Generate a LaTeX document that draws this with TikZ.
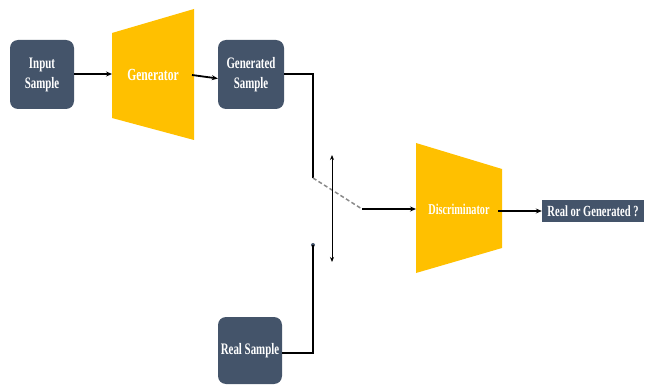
\documentclass[tikz,border=0pt]{standalone}
\usepackage{fontspec}
\newfontfamily\labfont{Liberation Serif}[FakeStretch=0.68]
\usetikzlibrary{arrows.meta}
\definecolor{slate}{HTML}{44546A}
\definecolor{gold}{HTML}{FFC000}
\definecolor{dashgray}{HTML}{8A8A8A}
\tikzset{
  box/.style={fill=slate, rounded corners=8pt, text=white, align=center,
    font=\labfont\bfseries\fontsize{16}{20}\selectfont, inner sep=0pt},
  lab/.style={text=white, font=\labfont\bfseries\fontsize{15}{17}\selectfont, inner sep=0pt},
  conn/.style={line width=1.8pt, black},
  arr/.style={conn, -{Stealth[length=6pt,width=5pt]}},
  trap/.style={fill=gold},
}
\begin{document}
\begin{tikzpicture}[x=1pt,y=-1pt]
\useasboundingbox (0,0) rectangle (646,385);
% boxes
\node[box, minimum width=64pt, minimum height=69pt] (input) at (42,74.5) {Input\\Sample};
\node[box, minimum width=66pt, minimum height=69pt] (gensample) at (251,74.5) {Generated\\Sample};
\node[box, minimum width=64pt, minimum height=67pt] (real) at (250,350.5) {Real Sample};
\node[fill=slate, rounded corners=0pt, minimum width=102pt, minimum height=22pt, inner sep=0pt,
  text=white, font=\labfont\bfseries\fontsize{15.5}{18}\selectfont] (out) at (593,211) {Real or Generated ?};
% trapezoids
\fill[trap] (112,33) -- (194,9) -- (194,140) -- (112,118) -- cycle;
\node[lab, font=\labfont\bfseries\fontsize{17}{19}\selectfont] (gen) at (153,75) {Generator};
\fill[trap] (416,143) -- (502,169) -- (502,248) -- (416,273) -- cycle;
\node[lab] (disc) at (459,209) {Discriminator};
\coordinate (genL) at (112,74);
\coordinate (genR) at (192,75);
\coordinate (discL) at (416,209);
\coordinate (discR) at (498,211);
% connectors
\draw[arr] (input.east |- genL) -- (genL);
\draw[arr] (genR) -- ([yshift=-4pt]gensample.west);
\coordinate (c1) at (313,74);
\coordinate (sw) at (313,178);
\coordinate (sw2) at (362,209);
\draw[conn] (gensample.east |- c1) -- (c1) -- (sw);
\draw[dashgray, line width=1.5pt, dashed, dash pattern=on 4pt off 2.5pt] (sw) -- (sw2);
\draw[arr] (sw2) -- (discL);
\draw[arr] (discR) -- (out.west);
\coordinate (dot) at (313,245);
\coordinate (c2) at (313,353);
\fill[slate] (dot) circle (2pt);
\draw[conn] (real.east |- c2) -- (c2) -- (dot);
\coordinate (va) at (332,155);
\coordinate (vb) at (332,262);
\draw[line width=1pt, {Stealth[length=5pt,width=4pt]}-{Stealth[length=5pt,width=4pt]}] (va) -- (vb);
\end{tikzpicture}
\end{document}
